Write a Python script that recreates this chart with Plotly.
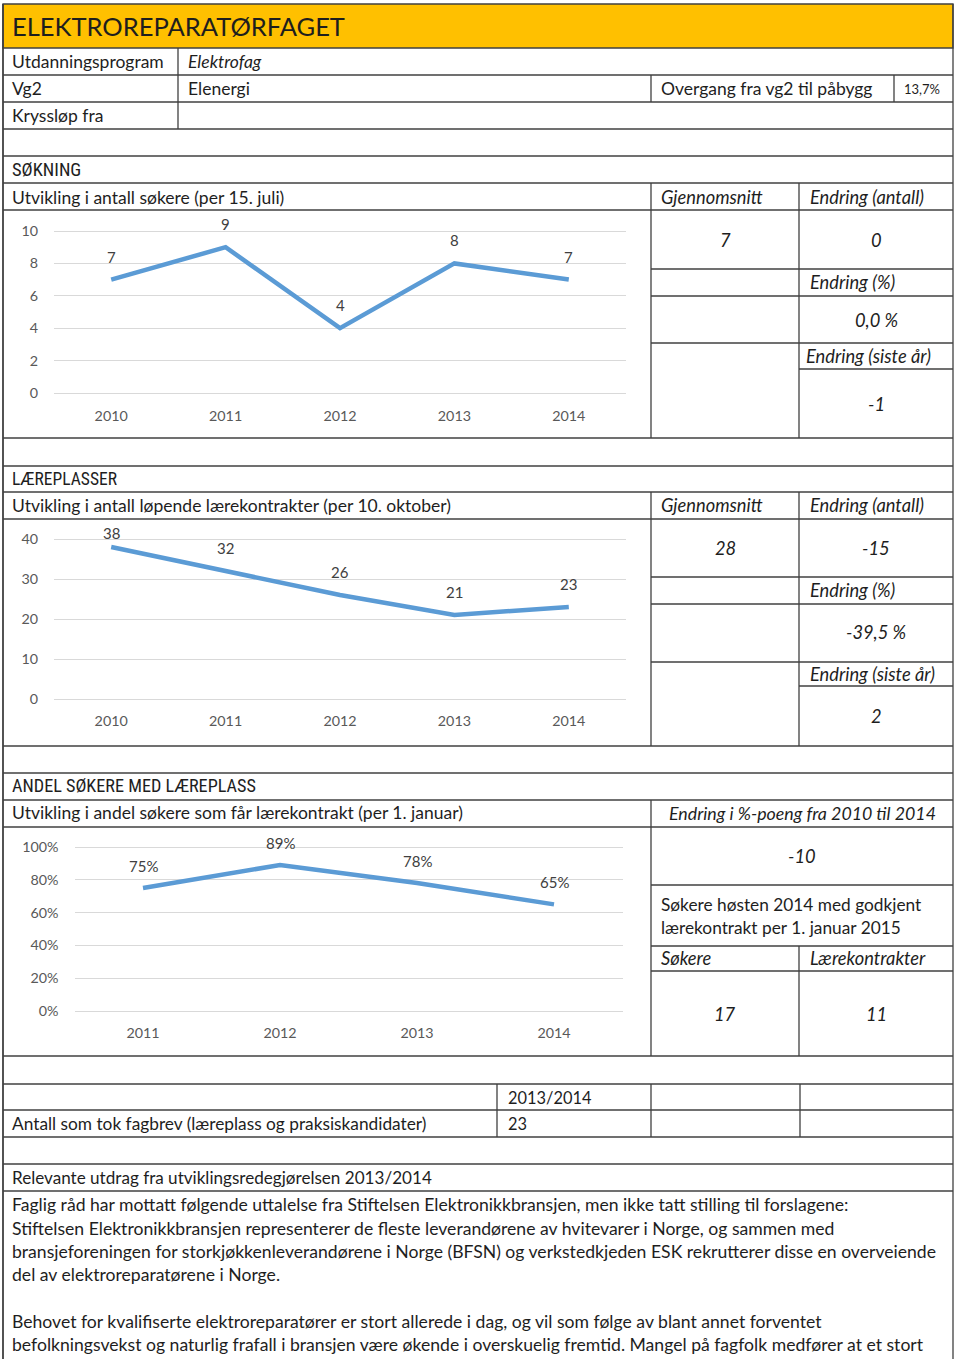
import plotly.graph_objects as go

W, H = 960, 1359

# ---------------- data ----------------
years_applicants = ["2010", "2011", "2012", "2013", "2014"]
applicants = [7, 9, 4, 8, 7]

years_contracts = ["2010", "2011", "2012", "2013", "2014"]
contracts = [38, 32, 26, 21, 23]

years_share = ["2011", "2012", "2013", "2014"]
share = [0.75, 0.89, 0.78, 0.65]

table1 = {"avg": "7", "chg": "0", "chg_pct": "0,0 %", "chg_last": "-1"}
table2 = {"avg": "28", "chg": "-15", "chg_pct": "-39,5 %", "chg_last": "2"}
table3 = {"chg_pp": "-10", "applicants": "17", "contracts": "11"}

paragraph = [
    "Faglig råd har mottatt følgende uttalelse fra Stiftelsen Elektronikkbransjen, men ikke tatt stilling til forslagene:",
    "Stiftelsen Elektronikkbransjen representerer de fleste leverandørene av hvitevarer i Norge, og sammen med",
    "bransjeforeningen for storkjøkkenleverandørene i Norge (BFSN) og verkstedkjeden ESK rekrutterer disse en overveiende",
    "del av elektroreparatørene i Norge.",
    "",
    "Behovet for kvalifiserte elektroreparatører er stort allerede i dag, og vil som følge av blant annet forventet",
    "befolkningsvekst og naturlig frafall i bransjen være økende i overskuelig fremtid. Mangel på fagfolk medfører at et stort",
]

# ---------------- helpers ----------------
def px(x):
    return x / W

def py(y):
    return 1 - y / H

LIGHT = "Lato"
NARROW = "Liberation Sans Narrow, Roboto Condensed, Lato"
TXT = "#1e1e1e"
LINE = "#404040"
BLUE = "#5B9BD5"
GRID = "#D9D9D9"
TICK = "#595959"

shapes = []
annotations = []

def hline(x0, x1, y, w=1.3, c=LINE):
    shapes.append(dict(type="line", xref="paper", yref="paper",
                       x0=px(x0), x1=px(x1), y0=py(y), y1=py(y),
                       line=dict(color=c, width=w)))

def vline(x, y0, y1, w=1.3, c=LINE):
    shapes.append(dict(type="line", xref="paper", yref="paper",
                       x0=px(x), x1=px(x), y0=py(y0), y1=py(y1),
                       line=dict(color=c, width=w)))

def text(x, y, s, size=17.5, family=LIGHT, italic=False, anchor="left", color=TXT):
    if anchor == "left":
        x -= 2
    annotations.append(dict(xref="paper", yref="paper", x=px(x), y=py(y),
                            text=s, showarrow=False, xanchor=anchor, yanchor="middle",
                            font=dict(family=family, size=size, color=color,
                                      style="italic" if italic else "normal")))

def itext(x, y, s, anchor="left", size=18.3):
    text(x, y, s, size=size, italic=True, anchor=anchor)

def ydomain(p0, p1, v0, v1, r0, r1):
    k = (p0 - p1) / (v1 - v0)
    bottom = p0 + (v0 - r0) * k
    top = p1 - (r1 - v1) * k
    return [py(bottom), py(top)]

# ---------------- header ----------------
shapes.append(dict(type="rect", xref="paper", yref="paper",
                   x0=px(3), x1=px(953), y0=py(48), y1=py(4),
                   fillcolor="#FFC000", line=dict(color=LINE, width=1.3)))
text(12, 26, "ELEKTROREPARATØRFAGET", size=25.5)

# outer verticals
vline(3, 4, 1359, w=1.8)
vline(953, 4, 1359)

for y in [75, 102, 129, 156, 183, 210, 438, 466, 492, 519, 746, 773, 800, 827,
          1056, 1084, 1110, 1137, 1164, 1191]:
    hline(3, 953, y)

vline(178, 48, 129)
vline(651, 75, 102)
vline(894, 75, 102)

text(12, 62, "Utdanningsprogram")
text(188, 62, "Elektrofag", italic=True)
text(12, 89, "Vg2")
text(188, 89, "Elenergi")
text(661, 89, "Overgang fra vg2 til påbygg")
text(904, 89, "13,7%", size=13)
text(12, 116, "Kryssløp fra")

HDR = 18.5

# ---------------- section 1 ----------------
text(12, 170, "SØKNING", family=NARROW, size=HDR)
text(12, 197, "Utvikling i antall søkere (per 15. juli)")
vline(651, 183, 438)
vline(799, 183, 438)
for y in [269, 296, 343]:
    hline(651, 953, y)
hline(799, 953, 369)
itext(661, 197, "Gjennomsnitt")
itext(810, 197, "Endring (antall)")
itext(725, 240, table1["avg"], anchor="center")
itext(876, 240, table1["chg"], anchor="center")
itext(810, 282, "Endring (%)")
itext(876, 320, table1["chg_pct"], anchor="center")
itext(806, 356, "Endring (siste år)")
itext(876, 404, table1["chg_last"], anchor="center")

# ---------------- section 2 ----------------
text(12, 479, "LÆREPLASSER", family=NARROW, size=17.5)
text(12, 505, "Utvikling i antall løpende lærekontrakter (per 10. oktober)")
vline(651, 492, 746)
vline(799, 492, 746)
for y in [577, 604, 662]:
    hline(651, 953, y)
hline(799, 953, 686)
itext(661, 505, "Gjennomsnitt")
itext(810, 505, "Endring (antall)")
itext(725, 548, table2["avg"], anchor="center")
itext(876, 548, table2["chg"], anchor="center")
itext(810, 590, "Endring (%)")
itext(876, 632, table2["chg_pct"], anchor="center")
itext(810, 674, "Endring (siste år)")
itext(876, 716, table2["chg_last"], anchor="center")

# ---------------- section 3 ----------------
text(12, 786, "ANDEL SØKERE MED LÆREPLASS", family=NARROW, size=18.2)
text(12, 813, "Utvikling i andel søkere som får lærekontrakt (per 1. januar)")
vline(651, 800, 1056)
for y in [885, 946, 971]:
    hline(651, 953, y)
vline(799, 946, 1056)
itext(802, 813, "Endring i %-poeng fra 2010 til 2014", anchor="center", size=17.8)
itext(802, 856, table3["chg_pp"], anchor="center")
text(661, 904, "Søkere høsten 2014 med godkjent", size=17.3)
text(661, 927, "lærekontrakt per 1. januar 2015", size=17.3)
itext(661, 958, "Søkere")
itext(810, 958, "Lærekontrakter")
itext(725, 1014, table3["applicants"], anchor="center")
itext(876, 1014, table3["contracts"], anchor="center")

# ---------------- section 4 ----------------
for x in [497, 651, 800]:
    vline(x, 1084, 1137)
text(508, 1097, "2013/2014", size=16.4)
text(12, 1123, "Antall som tok fagbrev (læreplass og praksiskandidater)", size=17.3)
text(508, 1123, "23", size=16.4)

text(12, 1177, "Relevante utdrag fra utviklingsredegjørelsen 2013/2014", size=17.1)
line_y = [1204, 1228, 1251, 1274, 1297, 1321, 1344]
for yy, s in zip(line_y, paragraph):
    if s:
        text(12, yy, s, size=17.6)

# ---------------- charts ----------------
fig = go.Figure()

fig.add_trace(go.Scatter(x=years_applicants, y=applicants, mode="lines",
                         line=dict(color=BLUE, width=4.5), xaxis="x", yaxis="y",
                         hoverinfo="skip"))
fig.add_trace(go.Scatter(x=years_contracts, y=contracts, mode="lines",
                         line=dict(color=BLUE, width=4.5), xaxis="x2", yaxis="y2",
                         hoverinfo="skip"))
fig.add_trace(go.Scatter(x=years_share, y=share, mode="lines",
                         line=dict(color=BLUE, width=4.5), xaxis="x3", yaxis="y3",
                         hoverinfo="skip"))

LBL = dict(family=LIGHT, size=15, color="#404040")
for i, yv in enumerate(applicants):
    annotations.append(dict(xref="x", yref="y", x=i, y=yv, text=str(yv),
                            showarrow=False, yshift=23, font=LBL))
for i, yv in enumerate(contracts):
    shift = min(23, (40 - yv) * 4 + 6)
    annotations.append(dict(xref="x2", yref="y2", x=i, y=yv, text=str(yv),
                            showarrow=False, yshift=shift, font=LBL))
for i, yv in enumerate(share):
    annotations.append(dict(xref="x3", yref="y3", x=i, y=yv, text=f"{round(yv*100)}%",
                            showarrow=False, yshift=22, font=LBL))

tickfont = dict(family=LIGHT, size=14.3, color=TICK)

def xaxis(domain, n, anchor):
    return dict(domain=domain, anchor=anchor, type="category", range=[-0.5, n - 0.5],
                showgrid=False, zeroline=False, showline=False, ticks="",
                tickfont=tickfont, ticklabelstandoff=8, fixedrange=True,
                automargin=False)

def yaxis(domain, rng, dtick, anchor, fmt=None):
    d = dict(domain=domain, anchor=anchor, range=rng, dtick=dtick, tick0=0,
             showgrid=True, gridcolor=GRID, gridwidth=1, zeroline=False,
             showline=False, ticks="", tickfont=tickfont, ticklabelstandoff=15,
             fixedrange=True, automargin=False)
    if fmt:
        d["tickformat"] = fmt
    return d

fig.update_layout(
    width=W, height=H, autosize=False,
    margin=dict(l=0, r=0, t=0, b=0, pad=0, autoexpand=False),
    paper_bgcolor="white", plot_bgcolor="rgba(0,0,0,0)",
    showlegend=False,
    xaxis=xaxis([px(54), px(626)], 5, "y"),
    yaxis=yaxis(ydomain(393, 231, 0, 10, -0.3, 10.3), [-0.3, 10.3], 2, "x"),
    xaxis2=xaxis([px(54), px(626)], 5, "y2"),
    yaxis2=yaxis(ydomain(699, 539, 0, 40, -1, 41), [-1, 41], 10, "x2"),
    xaxis3=xaxis([px(74.5), px(622.5)], 4, "y3"),
    yaxis3=yaxis(ydomain(1011, 847, 0, 1, -0.02, 1.02), [-0.02, 1.02], 0.2, "x3", ".0%"),
    shapes=shapes,
    annotations=annotations,
)

fig.write_html(
    "out.html",
    config={"displayModeBar": False},
    post_script="document.body.style.margin='0';document.body.style.overflow='hidden';",
)
